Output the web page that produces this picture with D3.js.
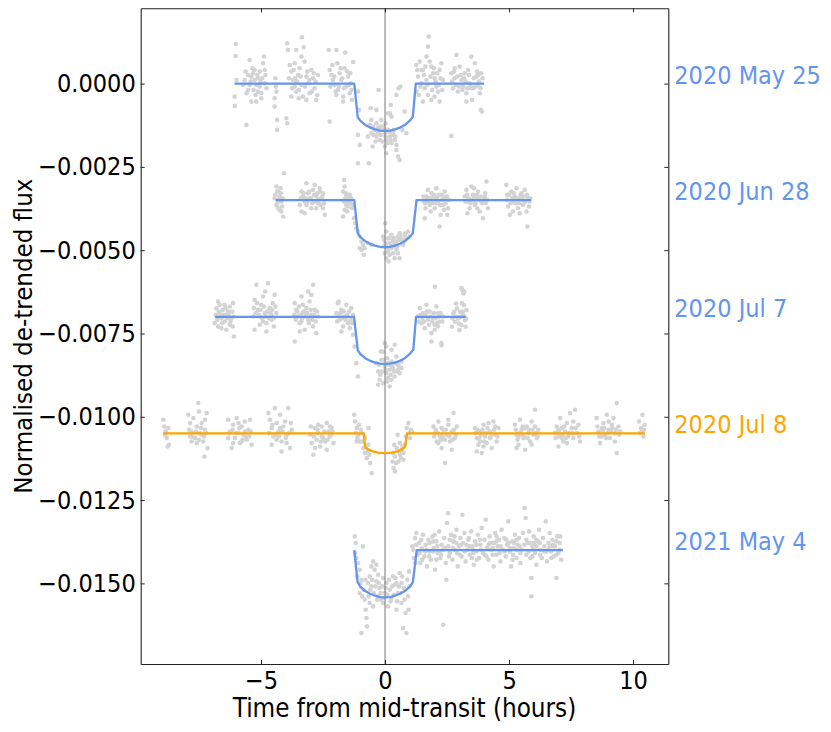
<!DOCTYPE html>
<html>
<head>
<meta charset="utf-8">
<script src="https://cdn.jsdelivr.net/npm/d3@7"></script>
<style>
  body { margin: 0; background: #fff; }
  text { font-family: 'DejaVu Sans Condensed', 'DejaVu Sans', sans-serif; font-stretch: condensed; }
</style>
</head>
<body>
<div id="vis"></div>
<script>
// time from mid-transit (hours), flux in ppm (x 1e-6)
const may25Points = [
  [-6.02,1190],[-6.02,830],[-5.99,110],[-6.06,-390],[-6.06,-670],[-5.59,-1240],[-5.52,260],[-5.46,710],[-5.39,210],[-5.32,310],[-5.26,110],[-5.19,-40],[-5.12,160],[-5.05,-90],[-4.99,-290],[-4.92,610],[-4.88,810],[-4.85,410],[-5.46,-40],[-5.52,-190],[-5.39,-540],[-5.19,-540],[-5.12,-240],[-4.99,-440],[-4.78,-140],[-4.85,10],[-5.05,360],[-5.26,410],[-5.66,110],[-5.73,-40],
  [-5.42,60],[-5.30,-190],[-5.15,260],[-5.02,60],[-4.95,160],[-5.58,-290],[-5.35,460],[-4.82,260],[-5.22,-340],[-5.62,360],
  [-4.42,160],[-4.38,-240],[-4.45,-440],[-4.45,-690],[-4.35,-1090],[-4.35,-1390],[-3.94,1210],[-3.91,1010],[-3.98,-1040],[-3.94,-1190],[-3.84,560],[-3.78,360],[-3.71,110],[-3.64,-90],[-3.58,-240],[-3.51,260],[-3.44,460],[-3.37,810],[-3.35,1390],[-3.28,1090],[-3.24,660],[-3.17,210],[-3.10,10],[-3.04,-290],[-2.97,410],[-2.90,160],[-2.84,-140],[-2.77,-490],[-2.70,260],[-3.58,1010],[-3.78,-390],[-3.64,610],[-3.31,-390],[-3.17,-490],[-3.37,-40],
  [-4.40,-90],[-3.88,160],[-3.75,-140],[-3.68,410],[-3.55,60],[-3.47,-190],[-3.40,210],[-3.22,-90],[-3.14,360],[-3.05,110],[-2.95,-240],[-2.87,310],[-2.80,60],[-2.73,-340],[-3.62,160],[-3.48,-440],
  [-2.27,1010],[-2.23,410],[-2.23,-1140],[-2.16,260],[-2.10,110],[-2.03,-40],[-1.96,1010],[-1.92,610],[-1.90,-190],[-1.83,310],[-1.76,110],[-1.69,-390],[-1.63,460],[-1.60,930],[-1.56,-90],[-1.49,210],[-1.42,-290],[-1.38,10],[-1.33,-490],[-1.29,650],[-1.69,-540],[-1.96,-340],
  [-2.20,-90],[-2.12,560],[-2.05,210],[-1.99,-240],[-1.86,-90],[-1.79,460],[-1.72,160],[-1.66,-140],[-1.53,360],[-1.46,-40],[-1.40,310],[-1.35,-190],
  [-1.09,-240],[-1.05,-790],[-1.09,-1540],[-1.02,-1840],[-1.09,-2390],[-0.65,-2390],[-0.58,-740],[-0.35,-790],[-0.26,-190],[-0.55,-1090],[-0.48,-1290],[-0.42,-1390],[-0.35,-1590],[-0.28,-1490],[-0.22,-1690],[-0.15,-1390],[-0.08,-1290],[-0.01,-1490],[0.05,-1690],[0.12,-1390],[0.19,-1590],[0.26,-1790],[0.32,-1490],[0.39,-1690],[0.46,-1840],[0.52,-2190],[0.59,-2290],[0.23,-640],[0.19,-890],[0.46,-340],[0.55,-140],[0.26,-990],[-0.15,-1090],[-0.69,-1590],[-0.55,-1490],[-0.35,-1190],[0.05,-2090],[0.12,-890],[0.86,-1490],[0.79,-840],[0.62,-90],[0.46,-1990],[-0.01,-1890],[-0.22,-1290],
  [-0.45,-1540],[-0.38,-1740],[-0.30,-1340],[-0.18,-1540],[-0.11,-1740],[-0.05,-1340],[0.02,-1590],[0.09,-1790],[0.16,-1440],[0.22,-1690],[0.29,-1540],[0.36,-1390],[0.42,-1590],[-0.62,-1240],[0.70,-1390],[-0.50,-1890],[0.02,-1190],
  [1.26,560],[1.40,660],[1.53,410],[1.67,810],[1.73,1110],[1.76,1410],[1.80,660],[1.87,510],[1.94,310],[2.00,160],[2.07,-90],[2.14,-240],[2.20,410],[2.27,610],[2.34,110],[1.33,210],[1.47,10],[1.60,-140],[1.73,-340],[1.87,-490],[1.26,-240],[1.53,-540],[2.00,-390],[2.20,-540],[1.47,410],[1.67,110],
  [1.30,410],[1.43,-90],[1.57,260],[1.63,510],[1.70,-40],[1.83,210],[1.90,-190],[1.97,460],[2.04,60],[2.10,310],[2.17,-40],[2.24,160],[2.30,-190],[1.36,-340],
  [2.67,310],[2.74,-140],[2.81,160],[2.88,860],[2.94,-240],[3.01,510],[3.08,110],[3.15,-90],[3.21,310],[3.28,-290],[3.35,410],[3.41,10],[3.48,810],[3.51,-490],[3.55,-140],[3.62,610],[3.68,210],[3.75,-40],[3.82,-290],[3.86,-790],[3.88,310],[3.91,-840],[2.67,-1570],[2.81,460],[3.28,-540],[3.48,-140],[3.75,260],
  [2.70,60],[2.78,360],[2.85,-40],[2.91,210],[2.98,-90],[3.05,260],[3.12,-190],[3.18,160],[3.25,60],[3.32,-140],[3.38,260],[3.45,-40],[3.58,160],[3.65,-90],[3.71,360],[3.78,60],[3.85,-140],[3.93,160]
];

const jun28Points = [
  [-4.38,-3090],[-4.31,-3240],[-4.25,-3390],[-4.18,-3540],[-4.45,-3440],[-4.38,-3640],[-4.31,-3740],[-4.11,-3990],[-4.07,-2690],[-4.21,-3140],[-4.15,-3690],[-4.25,-3790],[-4.34,-3590],
  [-4.42,-3340],[-4.28,-3490],[-4.20,-3290],[-4.12,-3440],[-4.35,-3240],[-4.18,-3840],
  [-3.37,-3240],[-3.31,-3390],[-3.24,-3540],[-3.17,-2990],[-3.17,-3640],[-3.10,-3290],[-3.04,-3440],[-2.97,-3740],[-2.90,-3190],[-2.84,-3040],[-2.77,-3390],[-2.70,-3590],[-2.63,-3240],[-2.57,-3440],[-2.50,-3740],[-2.43,-3940],[-3.37,-3840],[-3.24,-3890],[-3.44,-3640],[-2.77,-3740],[-2.63,-3140],[-2.50,-3290],
  [-3.40,-3440],[-3.28,-3290],[-3.20,-3440],[-3.13,-3540],[-3.06,-3240],[-2.99,-3440],[-2.93,-3590],[-2.86,-3340],[-2.80,-3540],[-2.73,-3290],[-2.66,-3490],[-2.60,-3640],[-2.53,-3390],[-2.46,-3590],
  [-1.65,-2890],[-1.63,-3090],[-1.69,-3240],[-1.60,-3440],[-1.56,-3640],[-1.63,-3790],[-1.52,-3840],[-1.69,-3990],[-1.49,-3540],[-1.42,-3340],[-1.36,-3440],[-1.33,-3740],[-1.56,-3390],
  [-1.66,-3540],[-1.58,-3290],[-1.50,-3690],[-1.45,-3440],[-1.38,-3590],[-1.30,-3640],
  [-1.25,-4040],[-1.20,-4190],[-1.16,-4340],[-1.09,-4440],[-1.02,-4590],[-0.95,-4740],[-0.89,-4840],[-0.82,-4940],[-0.95,-4990],[-0.86,-5140],[-1.02,-4940],[-0.69,-4790],[-0.55,-4840],[-0.08,-4590],[-0.04,-4690],[0.05,-4440],[0.01,-4190],[0.12,-4640],[0.19,-4790],[0.26,-4540],[0.32,-4690],[0.39,-4890],[0.46,-4740],[0.52,-4590],[0.59,-4490],[0.66,-4690],[0.73,-4840],[0.79,-4540],[0.86,-4640],[0.93,-4440],[0.99,-4590],[0.05,-4890],[0.12,-5040],[0.19,-5140],[0.26,-4940],[0.05,-5240],[0.15,-5340],[0.32,-5090],[0.46,-4990],[0.59,-5240],[0.52,-5090],[-0.01,-5090],[0.39,-5240],
  [0.02,-4790],[0.09,-4940],[0.16,-4640],[0.22,-4890],[0.29,-4790],[0.36,-4640],[0.42,-4790],[0.49,-4890],[0.56,-4690],[0.62,-4590],[0.69,-4790],[0.76,-4690],[-0.05,-4890],[0.83,-4490],
  [1.57,-3540],[1.60,-4040],[1.67,-3390],[1.73,-3190],[1.80,-3640],[1.87,-3290],[1.94,-3440],[2.00,-3740],[2.07,-3140],[2.14,-3540],[2.20,-4290],[2.24,-3940],[2.27,-3340],[2.34,-3640],[2.41,-3240],[2.47,-3440],[2.51,-3940],[2.54,-3740],[1.63,-3740],[1.84,-3840],[2.03,-3390],[2.38,-3790],
  [1.55,-3390],[1.62,-3590],[1.70,-3440],[1.76,-3540],[1.83,-3440],[1.90,-3590],[1.97,-3340],[2.05,-3590],[2.10,-3440],[2.17,-3340],[2.22,-3640],[2.30,-3490],[2.37,-3390],[2.44,-3590],[2.50,-3390],[2.57,-3490],
  [3.21,-3390],[3.28,-3190],[3.35,-3540],[3.41,-3740],[3.48,-3090],[3.55,-3340],[3.62,-3640],[3.68,-3440],[3.75,-3240],[3.82,-3840],[3.88,-3540],[3.95,-4040],[4.02,-3390],[4.09,-2940],[4.15,-3740],[3.32,-3890],[3.72,-3740],[4.05,-3590],[3.59,-3140],
  [3.24,-3540],[3.30,-3340],[3.38,-3440],[3.45,-3590],[3.52,-3490],[3.58,-3390],[3.65,-3590],[3.70,-3340],[3.78,-3490],[3.85,-3390],[3.92,-3590],[3.98,-3490],[4.04,-3290],[4.12,-3490],
  [4.89,-3040],[4.93,-3340],[4.96,-3690],[5.03,-3940],[5.09,-3240],[5.16,-3540],[5.23,-3390],[5.30,-3140],[5.36,-3740],[5.43,-3440],[5.50,-3290],[5.56,-3640],[5.63,-3190],[5.70,-3840],[5.77,-3440],[5.74,-4290],[5.83,-3540],[5.16,-3840],[5.43,-3890],[5.63,-3540],
  [4.91,-3490],[4.99,-3340],[5.06,-3590],[5.13,-3440],[5.19,-3290],[5.26,-3590],[5.33,-3440],[5.40,-3590],[5.46,-3340],[5.53,-3490],[5.59,-3390],[5.66,-3540],[5.72,-3340],[5.80,-3690],[5.86,-3440]
];

const jul7Points = [
  [-6.73,-6540],[-6.80,-6740],[-6.67,-6890],[-6.60,-7040],[-6.53,-6790],[-6.47,-7140],[-6.40,-6940],[-6.33,-6840],[-6.26,-6690],[-6.20,-7040],[-6.13,-6590],[-6.09,-7590],[-6.87,-7190],[-6.73,-7290],[-6.60,-7340],[-6.40,-7390],[-6.26,-7240],[-6.13,-7290],[-6.67,-6640],[-6.47,-6640],
  [-6.83,-6940],[-6.76,-7090],[-6.70,-6840],[-6.63,-6990],[-6.56,-7190],[-6.50,-6940],[-6.43,-6740],[-6.36,-7040],[-6.30,-6940],[-6.23,-7140],[-6.16,-6840],[-6.10,-6990],
  [-5.26,-6490],[-5.19,-6040],[-5.12,-6790],[-5.05,-6990],[-4.99,-6640],[-4.92,-6390],[-4.85,-6890],[-4.83,-6240],[-4.78,-7190],[-4.72,-5990],[-4.65,-6740],[-4.58,-7090],[-4.52,-6590],[-4.45,-6340],[-4.38,-6890],[-5.26,-7390],[-5.05,-7240],[-4.78,-7440],[-4.58,-6940],[-4.48,-7290],[-5.32,-6990],[-4.92,-7140],
  [-5.29,-6740],[-5.22,-6890],[-5.16,-6590],[-5.09,-6940],[-5.02,-6790],[-4.95,-7040],[-4.88,-6690],[-4.81,-6990],[-4.75,-6840],[-4.68,-7040],[-4.62,-6890],[-4.55,-6790],[-4.49,-7040],[-4.42,-6690],
  [-3.64,-6590],[-3.58,-6790],[-3.51,-6990],[-3.44,-7190],[-3.37,-6390],[-3.31,-6890],[-3.24,-7390],[-3.17,-6740],[-3.10,-7090],[-3.04,-6540],[-2.97,-6940],[-2.90,-6040],[-2.90,-7290],[-2.84,-6790],[-2.77,-7490],[-2.70,-6990],[-3.64,-7740],[-3.44,-7440],[-3.31,-6640],[-3.10,-6240],[-2.97,-6340],[-3.37,-7140],
  [-3.66,-6940],[-3.60,-7090],[-3.54,-6840],[-3.47,-6690],[-3.40,-6940],[-3.34,-7040],[-3.27,-6840],[-3.20,-6990],[-3.14,-6890],[-3.07,-7190],[-3.00,-6790],[-2.94,-7090],[-2.87,-6940],[-2.80,-7140],[-2.74,-6840],
  [-1.96,-6890],[-1.90,-6590],[-1.83,-7090],[-1.76,-6790],[-1.69,-7290],[-1.63,-6990],[-1.56,-6640],[-1.49,-7190],[-1.36,-6740],[-1.29,-6940],[-1.42,-7340],[-1.76,-7440],[-1.87,-6540],
  [-1.93,-7140],[-1.86,-6940],[-1.80,-6890],[-1.73,-7040],[-1.66,-6840],[-1.59,-7090],[-1.52,-6940],[-1.45,-6840],[-1.39,-7090],[-1.32,-7190],
  [-1.16,-8390],[-1.09,-8790],[-1.22,-7890],[-1.29,-7540],[-0.35,-8390],[-0.28,-8640],[-0.22,-8890],[-0.15,-8290],[-0.08,-8040],[-0.01,-8490],[0.05,-8690],[0.12,-8390],[0.19,-8590],[0.26,-8340],[0.32,-8540],[0.39,-8790],[0.46,-8190],[0.52,-8440],[0.59,-8690],[0.66,-8340],[-0.17,-8040],[0.05,-7890],[0.26,-7990],[0.39,-7840],[-0.08,-8990],[0.12,-8840],[0.26,-8890],[-0.01,-7790],[0.52,-8590],[-0.28,-9040],[0.19,-9090],[0.66,-8540],
  [-0.25,-8440],[-0.12,-8640],[-0.05,-8290],[0.02,-8590],[0.09,-8240],[0.16,-8440],[0.22,-8740],[0.29,-8490],[0.36,-8640],[0.42,-8390],[0.49,-8640],[0.56,-8490],[-0.19,-8740],[0.09,-8940],
  [1.33,-6990],[1.40,-6740],[1.47,-7190],[1.53,-6890],[1.60,-7340],[1.67,-6640],[1.73,-7090],[1.80,-6840],[1.87,-7490],[1.94,-7040],[2.00,-7240],[2.07,-6690],[2.14,-6890],[2.20,-7140],[2.27,-7790],[2.34,-6990],[1.87,-7740],[1.60,-6890],[2.00,-7390],[2.14,-7290],
  [1.36,-7140],[1.43,-6940],[1.50,-7040],[1.57,-7140],[1.63,-6940],[1.70,-6840],[1.77,-7240],[1.83,-6990],[1.90,-7140],[1.97,-6890],[2.04,-7040],[2.10,-7190],[2.17,-6990],[2.24,-6890],[2.31,-7140],
  [2.01,-6100],[3.12,-6200],[3.16,-6300],[2.28,-7850],[2.75,-6900],[2.82,-7150],[2.90,-6750],[2.95,-7050],[3.02,-6850],[3.08,-7250],[3.15,-6950],[3.22,-7100],[3.28,-6800],[2.70,-7300],[3.00,-7400],[3.25,-7300],[2.86,-6600],[3.18,-6650],[3.08,-6140],[3.19,-6240],[3.10,-6590],
  [2.72,-7050],[2.79,-6850],[2.88,-7000],[2.97,-7200],[3.05,-7000],[3.13,-6850],[3.20,-7000],[3.27,-7050]
];

const jul8Points = [
  [-8.94,-10090],[-8.90,-10290],[-8.84,-10440],[-8.80,-10640],[-8.76,-10890],[-8.71,-10840],[-8.87,-10540],[-8.74,-10340],
  [-7.93,-9940],[-7.86,-10190],[-7.80,-10440],[-7.73,-10040],[-7.66,-10640],[-7.59,-10290],[-7.53,-9590],[-7.50,-9840],[-7.46,-10490],[-7.39,-10190],[-7.33,-10740],[-7.28,-11190],[-7.26,-10390],[-7.19,-9890],[-7.15,-10940],[-7.59,-10790],[-7.80,-10740],[-7.39,-10540],[-7.26,-10090],[-7.86,-10590],
  [-7.90,-10390],[-7.76,-10590],[-7.62,-10440],[-7.49,-10690],[-7.42,-10340],[-7.30,-10590],[-7.22,-10490],
  [-6.32,-10090],[-6.25,-10440],[-6.18,-10940],[-6.12,-10240],[-6.05,-10640],[-5.98,-10040],[-5.91,-10490],[-5.85,-10790],[-5.78,-10290],[-5.71,-10540],[-5.65,-10140],[-5.58,-10690],[-5.51,-10390],[-5.44,-10090],[-5.38,-10840],[-6.12,-10790],[-5.91,-10190],[-5.65,-10440],[-6.32,-10640],[-5.78,-10740],
  [-6.28,-10490],[-6.15,-10390],[-6.02,-10490],[-5.88,-10340],[-5.74,-10690],[-5.61,-10590],[-5.48,-10590],[-5.41,-10440],
  [-4.70,-9890],[-4.64,-10090],[-4.57,-10340],[-4.50,-10590],[-4.44,-9740],[-4.37,-10190],[-4.30,-10440],[-4.23,-9940],[-4.17,-10740],[-4.10,-10290],[-4.03,-10140],[-3.97,-10540],[-3.90,-9740],[-3.83,-10940],[-3.76,-10390],[-4.57,-10840],[-4.37,-10690],[-4.17,-11040],[-3.97,-10790],[-4.23,-10340],
  [-4.67,-10490],[-4.54,-10240],[-4.40,-10540],[-4.27,-10590],[-4.13,-10440],[-4.00,-10640],[-3.87,-10490],[-3.80,-10190],
  [-3.02,-10540],[-2.96,-10790],[-2.89,-11140],[-2.82,-10340],[-2.76,-10690],[-2.69,-10490],[-2.62,-10890],[-2.55,-10290],[-2.49,-10640],[-2.42,-10740],[-2.35,-10190],[-2.28,-10440],[-2.22,-10590],[-2.15,-10340],[-2.08,-10790],[-2.82,-10940],[-2.55,-10590],[-2.35,-10990],[-2.69,-10240],[-2.22,-10290],
  [-2.99,-10290],[-2.86,-10590],[-2.72,-10390],[-2.59,-10740],[-2.45,-10440],[-2.32,-10690],[-2.18,-10540],[-2.12,-10440],
  [-1.24,-9940],[-1.21,-10140],[-1.14,-10340],[-1.08,-10540],[-1.01,-10740],[-0.94,-10490],[-0.87,-10940],[-0.81,-11090],[-0.74,-11240],[-0.67,-10840],[-0.60,-11390],[-0.54,-11690],[-0.67,-10340],[-0.81,-10640],[-1.14,-10740],[-1.05,-10240],
  [-1.18,-10490],[-1.11,-10640],[-0.98,-10390],[-0.90,-10740],[-0.77,-10890],[-0.70,-11040],[-0.63,-11140],
  [0.30,-11340],[0.34,-11540],[0.40,-11190],[0.47,-10940],[0.51,-10540],[0.54,-11340],[0.60,-11140],[0.67,-10990],[0.74,-11290],[0.81,-10840],[0.87,-10340],[0.94,-10190],[1.01,-10640],[1.08,-10440],[0.40,-11640],[0.60,-10790],[0.74,-11090],
  [0.32,-11090],[0.37,-10840],[0.44,-11390],[0.57,-11040],[0.64,-11240],[0.70,-10890],[0.84,-10590],[0.97,-10490],[1.04,-10390],
  [1.95,-10290],[2.02,-10490],[2.08,-10740],[2.15,-10140],[2.22,-10590],[2.28,-10940],[2.35,-10390],[2.42,-11390],[2.49,-10540],[2.55,-10240],[2.62,-10740],[2.69,-10440],[2.76,-9890],[2.82,-10640],[2.89,-10290],[2.15,-10790],[2.42,-10690],[2.69,-10990],[2.28,-10340],[2.55,-10090],
  [1.98,-10590],[2.05,-10390],[2.12,-10490],[2.25,-10690],[2.32,-10590],[2.45,-10390],[2.59,-10590],[2.72,-10690],[2.79,-10390],[2.86,-10540],
  [3.63,-10340],[3.70,-10640],[3.76,-10840],[3.83,-10440],[3.90,-11090],[3.97,-10240],[4.03,-10590],[4.10,-10790],[4.17,-10190],[4.23,-10440],[4.30,-10940],[4.37,-10140],[4.44,-10540],[4.50,-10740],[4.57,-10340],[3.70,-11040],[3.97,-10890],[4.23,-10640],[4.44,-10290],[3.83,-10740],
  [3.66,-10490],[3.73,-10390],[3.80,-10640],[3.87,-10540],[3.93,-10390],[4.00,-10740],[4.07,-10490],[4.13,-10340],[4.27,-10590],[4.40,-10390],[4.53,-10590],
  [5.24,-10240],[5.31,-10540],[5.38,-10840],[5.44,-10090],[5.51,-10390],[5.58,-10640],[5.65,-10990],[5.71,-10290],[5.78,-10490],[5.85,-10740],[5.91,-10140],[5.98,-10540],[6.05,-9790],[6.12,-10640],[6.18,-10390],[5.38,-10590],[5.65,-10340],[5.91,-10840],[5.31,-10940],[6.05,-10290],
  [5.27,-10390],[5.34,-10690],[5.41,-10490],[5.48,-10540],[5.55,-10290],[5.61,-10590],[5.75,-10640],[5.81,-10390],[5.95,-10390],[6.08,-10490],[6.15,-10590],
  [6.85,-10490],[6.92,-10290],[6.99,-10590],[7.06,-10040],[7.12,-10340],[7.19,-10740],[7.26,-10440],[7.33,-10190],[7.39,-10590],[7.46,-9890],[7.53,-10340],[7.59,-10640],[7.66,-9790],[7.73,-10490],[7.80,-10240],[7.86,-10740],[6.99,-10890],[7.33,-10790],[7.59,-10140],[7.12,-10640],
  [6.88,-10640],[6.95,-10440],[7.02,-10390],[7.09,-10540],[7.16,-10540],[7.22,-10290],[7.29,-10640],[7.43,-10490],[7.56,-10490],[7.69,-10340],[7.83,-10590],
  [8.53,-10040],[8.60,-10440],[8.67,-10790],[8.74,-10340],[8.80,-10190],[8.87,-10540],[8.94,-9940],[9.01,-10390],[9.07,-10640],[9.14,-10240],[9.21,-10040],[9.27,-10490],[9.34,-9590],[9.34,-11090],[9.41,-10290],[9.48,-10440],[8.74,-10590],[9.01,-10140],[9.27,-10740],
  [8.56,-10290],[8.64,-10590],[8.77,-10440],[8.84,-10340],[8.91,-10640],[8.97,-10490],[9.11,-10440],[9.17,-10340],[9.31,-10390],[9.44,-10540],
  [10.24,-10140],[10.32,-10340],[10.38,-9940],[10.42,-10590],[10.46,-10240],[10.28,-10490],[10.35,-10440],[10.44,-10390]
];

const may4Points = [
  [-1.22,-13590],[-1.18,-13790],[-1.16,-14240],[-1.09,-14390],[-1.02,-14590],[-0.95,-14890],[-0.89,-13890],[-0.86,-15190],[-0.82,-15490],[-0.78,-15790],[-0.75,-16040],[-0.95,-16490],[-0.73,-16290],[-0.69,-14990],[-0.62,-14790],[-0.55,-15090],[-0.48,-14340],[-0.42,-14590],[-0.35,-14940],[-0.28,-14740],[-0.22,-15140],[-0.15,-15490],[-0.08,-14840],[-0.01,-15290],[0.05,-14990],[0.12,-15690],[0.19,-15190],[0.26,-15440],[0.32,-14790],[0.39,-15040],[0.46,-15790],[0.52,-15290],[0.59,-14690],[0.66,-14990],[0.73,-16340],[0.79,-15490],[0.86,-16490],[0.83,-15890],[0.93,-15390],[0.99,-15090],[0.97,-14640],[-0.62,-15590],[-0.48,-15690],[-0.28,-15390],[-0.08,-15590],[0.46,-14990],[0.66,-15590],[-1.02,-15290],[-0.55,-14490],[-0.35,-14440],
  [-1.12,-14790],[-0.99,-14990],[-0.92,-15390],[-0.79,-14890],[-0.66,-15390],[-0.59,-15190],[-0.52,-14890],[-0.45,-15290],[-0.39,-15090],[-0.32,-15490],[-0.25,-14990],[-0.18,-15290],[-0.12,-15090],[-0.05,-15440],[0.02,-15140],[0.09,-15340],[0.16,-14890],[0.22,-15540],[0.29,-15090],[0.36,-15340],[0.42,-14840],[0.49,-15540],[0.56,-15090],[0.62,-15290],[0.69,-14790],[0.76,-15140],[0.90,-14890],[-1.20,-14090],[0.95,-15790],
  [1.10,-13890],[1.16,-14240],[1.21,-13640],[1.26,-13490],[1.32,-14090],[1.37,-13790],[1.42,-14390],[1.48,-13940],[1.53,-13540],[1.59,-14190],[1.64,-13840],[1.69,-14490],[1.75,-13690],[1.80,-14040],[1.85,-14290],[1.91,-13590],[1.96,-13940],[2.02,-14590],[2.07,-13740],[2.12,-14090],[2.18,-13440],[2.23,-14240],[2.28,-13840],[2.34,-13990],[2.39,-13640],[2.45,-14390],[2.50,-13190],[2.54,-12890],[2.55,-13890],[2.61,-14090],[2.66,-13540],[2.72,-14290],[2.77,-13740],[2.82,-13990],[2.88,-13390],[2.93,-14490],[2.98,-13890],[3.04,-13640],[3.09,-14190],[3.12,-12940],[3.15,-13790],[3.20,-13490],[3.25,-14340],[3.31,-13990],[3.36,-13690],[3.41,-14140],[3.47,-13440],[3.52,-13890],[3.58,-14440],[3.63,-13740],[3.68,-14040],[3.74,-13540],[3.79,-14240],[3.84,-13840],[3.90,-13340],[3.95,-14090],[4.01,-13690],[4.06,-13090],[4.11,-13940],[4.17,-14290],[4.22,-13590],[4.27,-13990],[4.33,-13790],[4.38,-14490],[4.44,-13490],[4.49,-14140],[4.54,-13890],[4.60,-13690],[4.65,-14340],[4.70,-13390],[4.76,-13990],[4.81,-13640],[4.87,-14190],[4.92,-13840],[4.97,-13140],[5.03,-14040],[5.08,-14490],[5.13,-13740],[5.19,-13940],[5.24,-13540],[5.30,-14240],[5.35,-13840],[5.40,-13640],[5.46,-14390],[5.51,-13990],[5.56,-13490],[5.63,-12740],[5.67,-13040],[5.70,-14140],[5.75,-13790],[5.81,-13440],[5.86,-14240],[5.90,-14840],[5.90,-15390],[5.94,-13890],[5.99,-13590],[6.05,-14090],[6.10,-14440],[6.16,-13740],[6.21,-13390],[6.26,-13990],[6.32,-14240],[6.37,-13640],[6.42,-13890],[6.48,-13140],[6.53,-14340],[6.59,-13790],[6.64,-13490],[6.69,-14040],[6.75,-13690],[6.80,-14190],[6.85,-13890],[6.91,-14840],[6.94,-13590],[6.99,-14090],[7.04,-13790],[7.10,-14290],[2.47,-14890],[2.34,-16240],
  [1.40,-14090],[1.67,-13990],[1.94,-13740],[2.20,-14040],[2.74,-13940],[3.01,-14140],[3.28,-13840],[3.55,-14090],[3.82,-13690],[4.09,-14190],[4.35,-13940],[4.62,-14090],[4.89,-13690],[5.16,-14140],[5.43,-13890],[5.70,-13690],[5.97,-13990],[6.24,-13790],[6.51,-14040],[6.77,-13840],[7.04,-13990],[1.26,-13840],[2.07,-14290],[2.88,-13790],[3.68,-13840],[4.49,-13740],[5.30,-13990],[6.10,-13890],[6.91,-14140],[1.80,-13790],[2.61,-13690],[3.41,-13890],[4.22,-13790],[5.03,-13940],[5.83,-13790],[6.64,-13890],
  [1.14,-13990],[1.30,-14140],[1.46,-13690],[1.62,-14040],[1.78,-14190],[1.94,-14040],[2.10,-13890],[2.26,-14140],[2.42,-13940],[2.58,-14190],[2.74,-13740],[2.90,-14090],[3.06,-13840],[3.22,-14040],[3.38,-13640],[3.54,-13990],[3.70,-14290],[3.86,-13990],[4.02,-14140],[4.18,-13840],[4.34,-14140],[4.50,-13590],[4.66,-13890],[4.82,-14040],[4.98,-13790],[5.14,-14290],[5.30,-13690],[5.46,-14090],[5.62,-13840],[5.78,-14040],[5.94,-14190],[6.10,-13690],[6.26,-14140],[6.42,-14040],[6.58,-13990],[6.74,-13890],[6.90,-13740],[7.06,-13590],[1.22,-14390],[1.50,-14290],[2.00,-13540],[2.80,-13590],[3.50,-14240],[4.40,-13790],[5.20,-13790],[6.00,-13790],[6.70,-14240]
];

// fitted transit models, [hours, ppm]
const may25Model = [[-6.07,0],[-1.24,0],[-1.10,-1010],[-1.0,-1110],[-0.8,-1240],[-0.6,-1320],[-0.4,-1375],[-0.2,-1410],[0,-1420],[0.2,-1410],[0.4,-1375],[0.6,-1320],[0.8,-1240],[1.0,-1110],[1.12,-1000],[1.24,0],[3.99,0]];
const jun28Model = [[-4.41,-3500],[-1.24,-3500],[-1.10,-4490],[-1.0,-4600],[-0.8,-4730],[-0.6,-4810],[-0.4,-4865],[-0.2,-4900],[0,-4910],[0.2,-4900],[0.4,-4865],[0.6,-4810],[0.8,-4730],[1.0,-4600],[1.12,-4490],[1.27,-3500],[5.88,-3500]];
const jul7Model = [[-6.85,-7000],[-1.25,-7000],[-1.10,-8000],[-1.0,-8110],[-0.8,-8240],[-0.6,-8320],[-0.4,-8375],[-0.2,-8405],[0,-8415],[0.2,-8405],[0.4,-8375],[0.6,-8320],[0.8,-8240],[1.0,-8110],[1.14,-7990],[1.25,-7000],[3.25,-7000]];
const jul8Model = [[-8.94,-10500],[-0.86,-10500],[-0.80,-10910],[-0.7,-10970],[-0.5,-11040],[-0.3,-11075],[0,-11090],[0.3,-11075],[0.5,-11040],[0.7,-10970],[0.80,-10910],[0.89,-10500],[10.48,-10500]];
const may4Model = [[-1.24,-14000],[-1.11,-14950],[-1.0,-15100],[-0.8,-15230],[-0.6,-15310],[-0.4,-15370],[-0.2,-15410],[0,-15420],[0.2,-15410],[0.4,-15370],[0.6,-15310],[0.8,-15230],[1.0,-15100],[1.12,-14970],[1.28,-14000],[7.17,-14000]];

const nightLabels = ["2020 May 25", "2020 Jun 28", "2020 Jul 7", "2020 Jul 8", "2021 May 4"];
const nightOffsets = [0, -3500, -7000, -10500, -14000];
const nightColors = ["#6495ED", "#6495ED", "#6495ED", "#FFA500", "#6495ED"];

const xTicks = [-5, 0, 5, 10];
const yTicks = [0, -0.0025, -0.005, -0.0075, -0.01, -0.0125, -0.015];

const width = 831, height = 732;
const margin = { top: 8.3, right: 162.7, bottom: 68, left: 140.7 };
const fontFamily = "'DejaVu Sans Condensed', 'DejaVu Sans', sans-serif";

const svg = d3.select("#vis").append("svg")
    .attr("width", width)
    .attr("height", height)
    .style("background", "#fff");

const x = d3.scaleLinear()
    .domain([-9.85, 11.42])
    .range([margin.left, width - margin.right]);

const y = d3.scaleLinear()
    .domain([-0.01742, 0.00226])
    .range([height - margin.bottom, margin.top]);

const px = d => x(d[0]);
const py = d => y(d[1] * 1e-6);

const minus = s => s.replace("-", "\u2212");

// data points
const allPoints = [may25Points, jun28Points, jul7Points, jul8Points, may4Points];
svg.append("g")
    .selectAll("g")
    .data(allPoints)
    .join("g")
    .selectAll("circle")
    .data(d => d)
    .join("circle")
    .attr("cx", px)
    .attr("cy", py)
    .attr("r", 2.3)
    .attr("fill", "#d3d3d3");

// mid-transit line
svg.append("line")
    .attr("x1", x(0)).attr("x2", x(0))
    .attr("y1", margin.top).attr("y2", height - margin.bottom)
    .attr("stroke", "#808080")
    .attr("stroke-width", 1.1);

// models
const lineFunc = d3.line().x(px).y(py);
const models = [may25Model, jun28Model, jul7Model, jul8Model, may4Model];
svg.append("g")
    .selectAll("path")
    .data(models)
    .join("path")
    .attr("d", lineFunc)
    .attr("fill", "none")
    .attr("stroke", (d, i) => nightColors[i])
    .attr("stroke-width", 2.3)
    .attr("stroke-linejoin", "round");

// axes (ticks pointing inwards on all four sides)
const styleAxis = g => g
    .attr("color", "#222")
    .attr("font-size", 25)
    .attr("font-family", fontFamily)
    .call(g => g.selectAll("text").attr("fill", "#000"))
    .call(g => g.select(".domain").attr("stroke-width", 1.1));

svg.append("g")
    .attr("transform", `translate(0,${height - margin.bottom})`)
    .call(d3.axisBottom(x).tickValues(xTicks).tickSizeInner(-4).tickSizeOuter(0).tickPadding(7)
        .tickFormat(d => minus(d3.format("d")(d))))
    .call(styleAxis);

svg.append("g")
    .attr("transform", `translate(0,${margin.top})`)
    .call(d3.axisTop(x).tickValues(xTicks).tickSizeInner(-4).tickSizeOuter(0).tickFormat(""))
    .call(styleAxis);

svg.append("g")
    .attr("transform", `translate(${margin.left},0)`)
    .call(d3.axisLeft(y).tickValues(yTicks).tickSizeInner(-4).tickSizeOuter(0).tickPadding(5)
        .tickFormat(d => minus(d3.format(".4f")(d))))
    .call(styleAxis);

svg.append("g")
    .attr("transform", `translate(${width - margin.right},0)`)
    .call(d3.axisRight(y).tickValues(yTicks).tickSizeInner(-4).tickSizeOuter(0).tickFormat(""))
    .call(styleAxis);

// night labels on the right
svg.selectAll(".night-label")
    .data(nightLabels)
    .join("text")
    .attr("class", "night-label")
    .attr("x", width - margin.right + 6)
    .attr("y", (d, i) => y(nightOffsets[i] * 1e-6))
    .attr("fill", (d, i) => nightColors[i])
    .attr("font-size", 25)
    .attr("font-family", fontFamily)
    .text(d => d);

// axis labels
svg.append("text")
    .attr("x", (margin.left + width - margin.right) / 2)
    .attr("y", 717)
    .attr("text-anchor", "middle")
    .attr("font-size", 25.8)
    .attr("font-family", fontFamily)
    .text("Time from mid-transit (hours)");

svg.append("text")
    .attr("transform", `translate(32,${(margin.top + height - margin.bottom) / 2}) rotate(-90)`)
    .attr("text-anchor", "middle")
    .attr("font-size", 25.6)
    .attr("font-family", fontFamily)
    .text("Normalised de-trended flux");
</script>
</body>
</html>
